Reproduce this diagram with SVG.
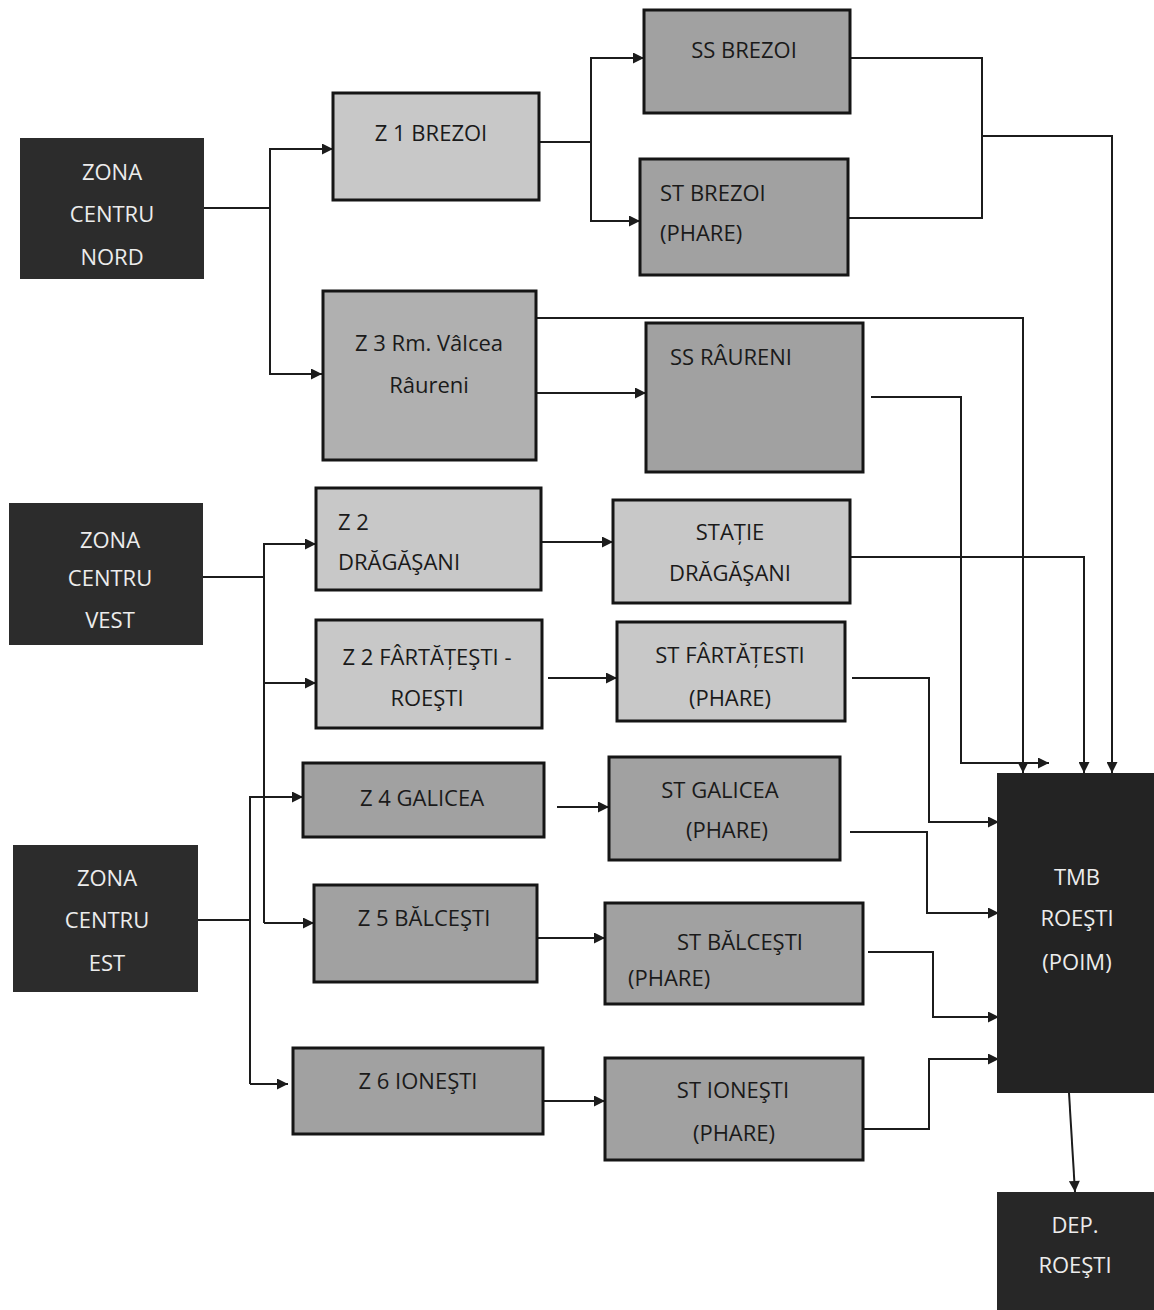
<svg xmlns="http://www.w3.org/2000/svg" width="1154" height="1310" viewBox="0 0 1154 1310">
<style>
.dark{fill:#2c2c2c}
.lt{stroke:#151515;stroke-width:3}
.l1{fill:#c8c8c8}
.l2{fill:#b0b0b0}
.l3{fill:#a1a1a1}
.tw{font-family:"Open Sans","Noto Sans",sans-serif;font-size:22px;fill:#ececec;text-anchor:middle}
.tb{font-family:"Open Sans","Noto Sans",sans-serif;font-size:22px;fill:#1a1a1a;text-anchor:middle}
.st{text-anchor:start}
.c path{fill:none;stroke:#1c1c1c;stroke-width:2}
.c .a{marker-end:url(#ah)}
</style>
<defs>
<marker id="ah" viewBox="0 0 10 10" refX="10" refY="5" markerWidth="14" markerHeight="11" markerUnits="userSpaceOnUse" orient="auto">
<path d="M0,0 L10,5 L0,10 z" fill="#1c1c1c"/>
</marker>
</defs>
<rect width="1154" height="1310" fill="#ffffff"/>

<g id="connectors" class="c">
<path class="a" d="M204,208 H270 V149 H333"/>
<path class="a" d="M270,208 V374 H322"/>
<path class="a" d="M539,142 H591 V58 H644"/>
<path class="a" d="M591,142 V221 H640"/>
<path d="M850,58 H982 V218 H848"/>
<path class="a" d="M982,136 H1112 V773"/>
<path class="a" d="M536,318 H1023 V773"/>
<path class="a" d="M536,393 H646"/>
<path class="a" d="M871,397 H961 V763 H1049"/>
<path class="a" d="M541,542 H613"/>
<path class="a" d="M850,557 H1084 V773"/>
<path class="a" d="M548,678 H617"/>
<path class="a" d="M852,678 H929 V822 H999"/>
<path class="a" d="M557,807 H609"/>
<path class="a" d="M850,832 H927 V913 H999"/>
<path class="a" d="M537,938 H605"/>
<path class="a" d="M868,952 H933 V1017 H999"/>
<path class="a" d="M543,1101 H605"/>
<path class="a" d="M863,1129 H929 V1059 H999"/>
<path class="a" d="M1069,1093 L1075,1192"/>
<path d="M203,577 H264"/>
<path class="a" d="M264,923 V544 H316"/>
<path class="a" d="M264,683 H316"/>
<path class="a" d="M264,923 H314"/>
<path d="M198,920 H250"/>
<path class="a" d="M250,1084 V797 H303"/>
<path class="a" d="M250,1084 H288"/>
</g>

<g id="zona-centru-nord">
<rect class="dark" x="20" y="138" width="184" height="141"/>
<text class="tw" x="112" y="180">ZONA</text>
<text class="tw" x="112" y="222">CENTRU</text>
<text class="tw" x="112" y="265">NORD</text>
</g>
<g id="zona-centru-vest">
<rect class="dark" x="9" y="503" width="194" height="142"/>
<text class="tw" x="110" y="548">ZONA</text>
<text class="tw" x="110" y="586">CENTRU</text>
<text class="tw" x="110" y="628">VEST</text>
</g>
<g id="zona-centru-est">
<rect class="dark" x="13" y="845" width="185" height="147"/>
<text class="tw" x="107" y="886">ZONA</text>
<text class="tw" x="107" y="928">CENTRU</text>
<text class="tw" x="107" y="971">EST</text>
</g>

<g id="z1-brezoi">
<rect class="l1 lt" x="333" y="93" width="206" height="107"/>
<text class="tb" x="431" y="141">Z 1 BREZOI</text>
</g>
<g id="z3-valcea">
<rect class="l2 lt" x="323" y="291" width="213" height="169"/>
<text class="tb" x="429" y="351">Z 3 Rm. Vâlcea</text>
<text class="tb" x="429" y="393">Râureni</text>
</g>
<g id="ss-brezoi">
<rect class="l3 lt" x="644" y="10" width="206" height="103"/>
<text class="tb" x="744" y="58">SS BREZOI</text>
</g>
<g id="st-brezoi">
<rect class="l3 lt" x="640" y="159" width="208" height="116"/>
<text class="tb st" x="660" y="201">ST BREZOI</text>
<text class="tb st" x="660" y="241">(PHARE)</text>
</g>
<g id="ss-raureni">
<rect class="l3 lt" x="646" y="323" width="217" height="149"/>
<text class="tb" x="731" y="365">SS RÂURENI</text>
</g>

<g id="z2-dragasani">
<rect class="l1 lt" x="316" y="488" width="225" height="102"/>
<text class="tb st" x="338" y="530">Z 2</text>
<text class="tb st" x="338" y="570">DRĂGĂŞANI</text>
</g>
<g id="statie-dragasani">
<rect class="l1 lt" x="613" y="500" width="237" height="103"/>
<text class="tb" x="730" y="540">STAȚIE</text>
<text class="tb" x="730" y="581">DRĂGĂŞANI</text>
</g>
<g id="z2-fartatesti">
<rect class="l1 lt" x="316" y="620" width="226" height="108"/>
<text class="tb" x="427" y="665">Z 2 FÂRTĂȚEŞTI -</text>
<text class="tb" x="427" y="706">ROEŞTI</text>
</g>
<g id="st-fartatesti">
<rect class="l1 lt" x="617" y="622" width="228" height="99"/>
<text class="tb" x="730" y="663">ST FÂRTĂȚESTI</text>
<text class="tb" x="730" y="706">(PHARE)</text>
</g>
<g id="z4-galicea">
<rect class="l3 lt" x="303" y="763" width="241" height="74"/>
<text class="tb" x="422" y="806">Z 4 GALICEA</text>
</g>
<g id="st-galicea">
<rect class="l3 lt" x="609" y="757" width="231" height="103"/>
<text class="tb" x="720" y="798">ST GALICEA</text>
<text class="tb" x="727" y="838">(PHARE)</text>
</g>
<g id="z5-balcesti">
<rect class="l3 lt" x="314" y="885" width="223" height="97"/>
<text class="tb" x="424" y="926">Z 5 BĂLCEŞTI</text>
</g>
<g id="st-balcesti">
<rect class="l3 lt" x="605" y="903" width="258" height="101"/>
<text class="tb" x="740" y="950">ST BĂLCEŞTI</text>
<text class="tb st" x="628" y="986">(PHARE)</text>
</g>
<g id="z6-ionesti">
<rect class="l3 lt" x="293" y="1048" width="250" height="86"/>
<text class="tb" x="418" y="1089">Z 6 IONEŞTI</text>
</g>
<g id="st-ionesti">
<rect class="l3 lt" x="605" y="1058" width="258" height="102"/>
<text class="tb" x="733" y="1098">ST IONEŞTI</text>
<text class="tb" x="734" y="1141">(PHARE)</text>
</g>

<g id="tmb-roesti">
<rect x="997" y="773" width="160" height="320" fill="#232323"/>
<text class="tw" x="1077" y="885">TMB</text>
<text class="tw" x="1077" y="926">ROEŞTI</text>
<text class="tw" x="1077" y="970">(POIM)</text>
</g>
<g id="dep-roesti">
<rect x="997" y="1192" width="160" height="120" fill="#272727"/>
<text class="tw" x="1075" y="1233">DEP.</text>
<text class="tw" x="1075" y="1273">ROEŞTI</text>
</g>
</svg>
